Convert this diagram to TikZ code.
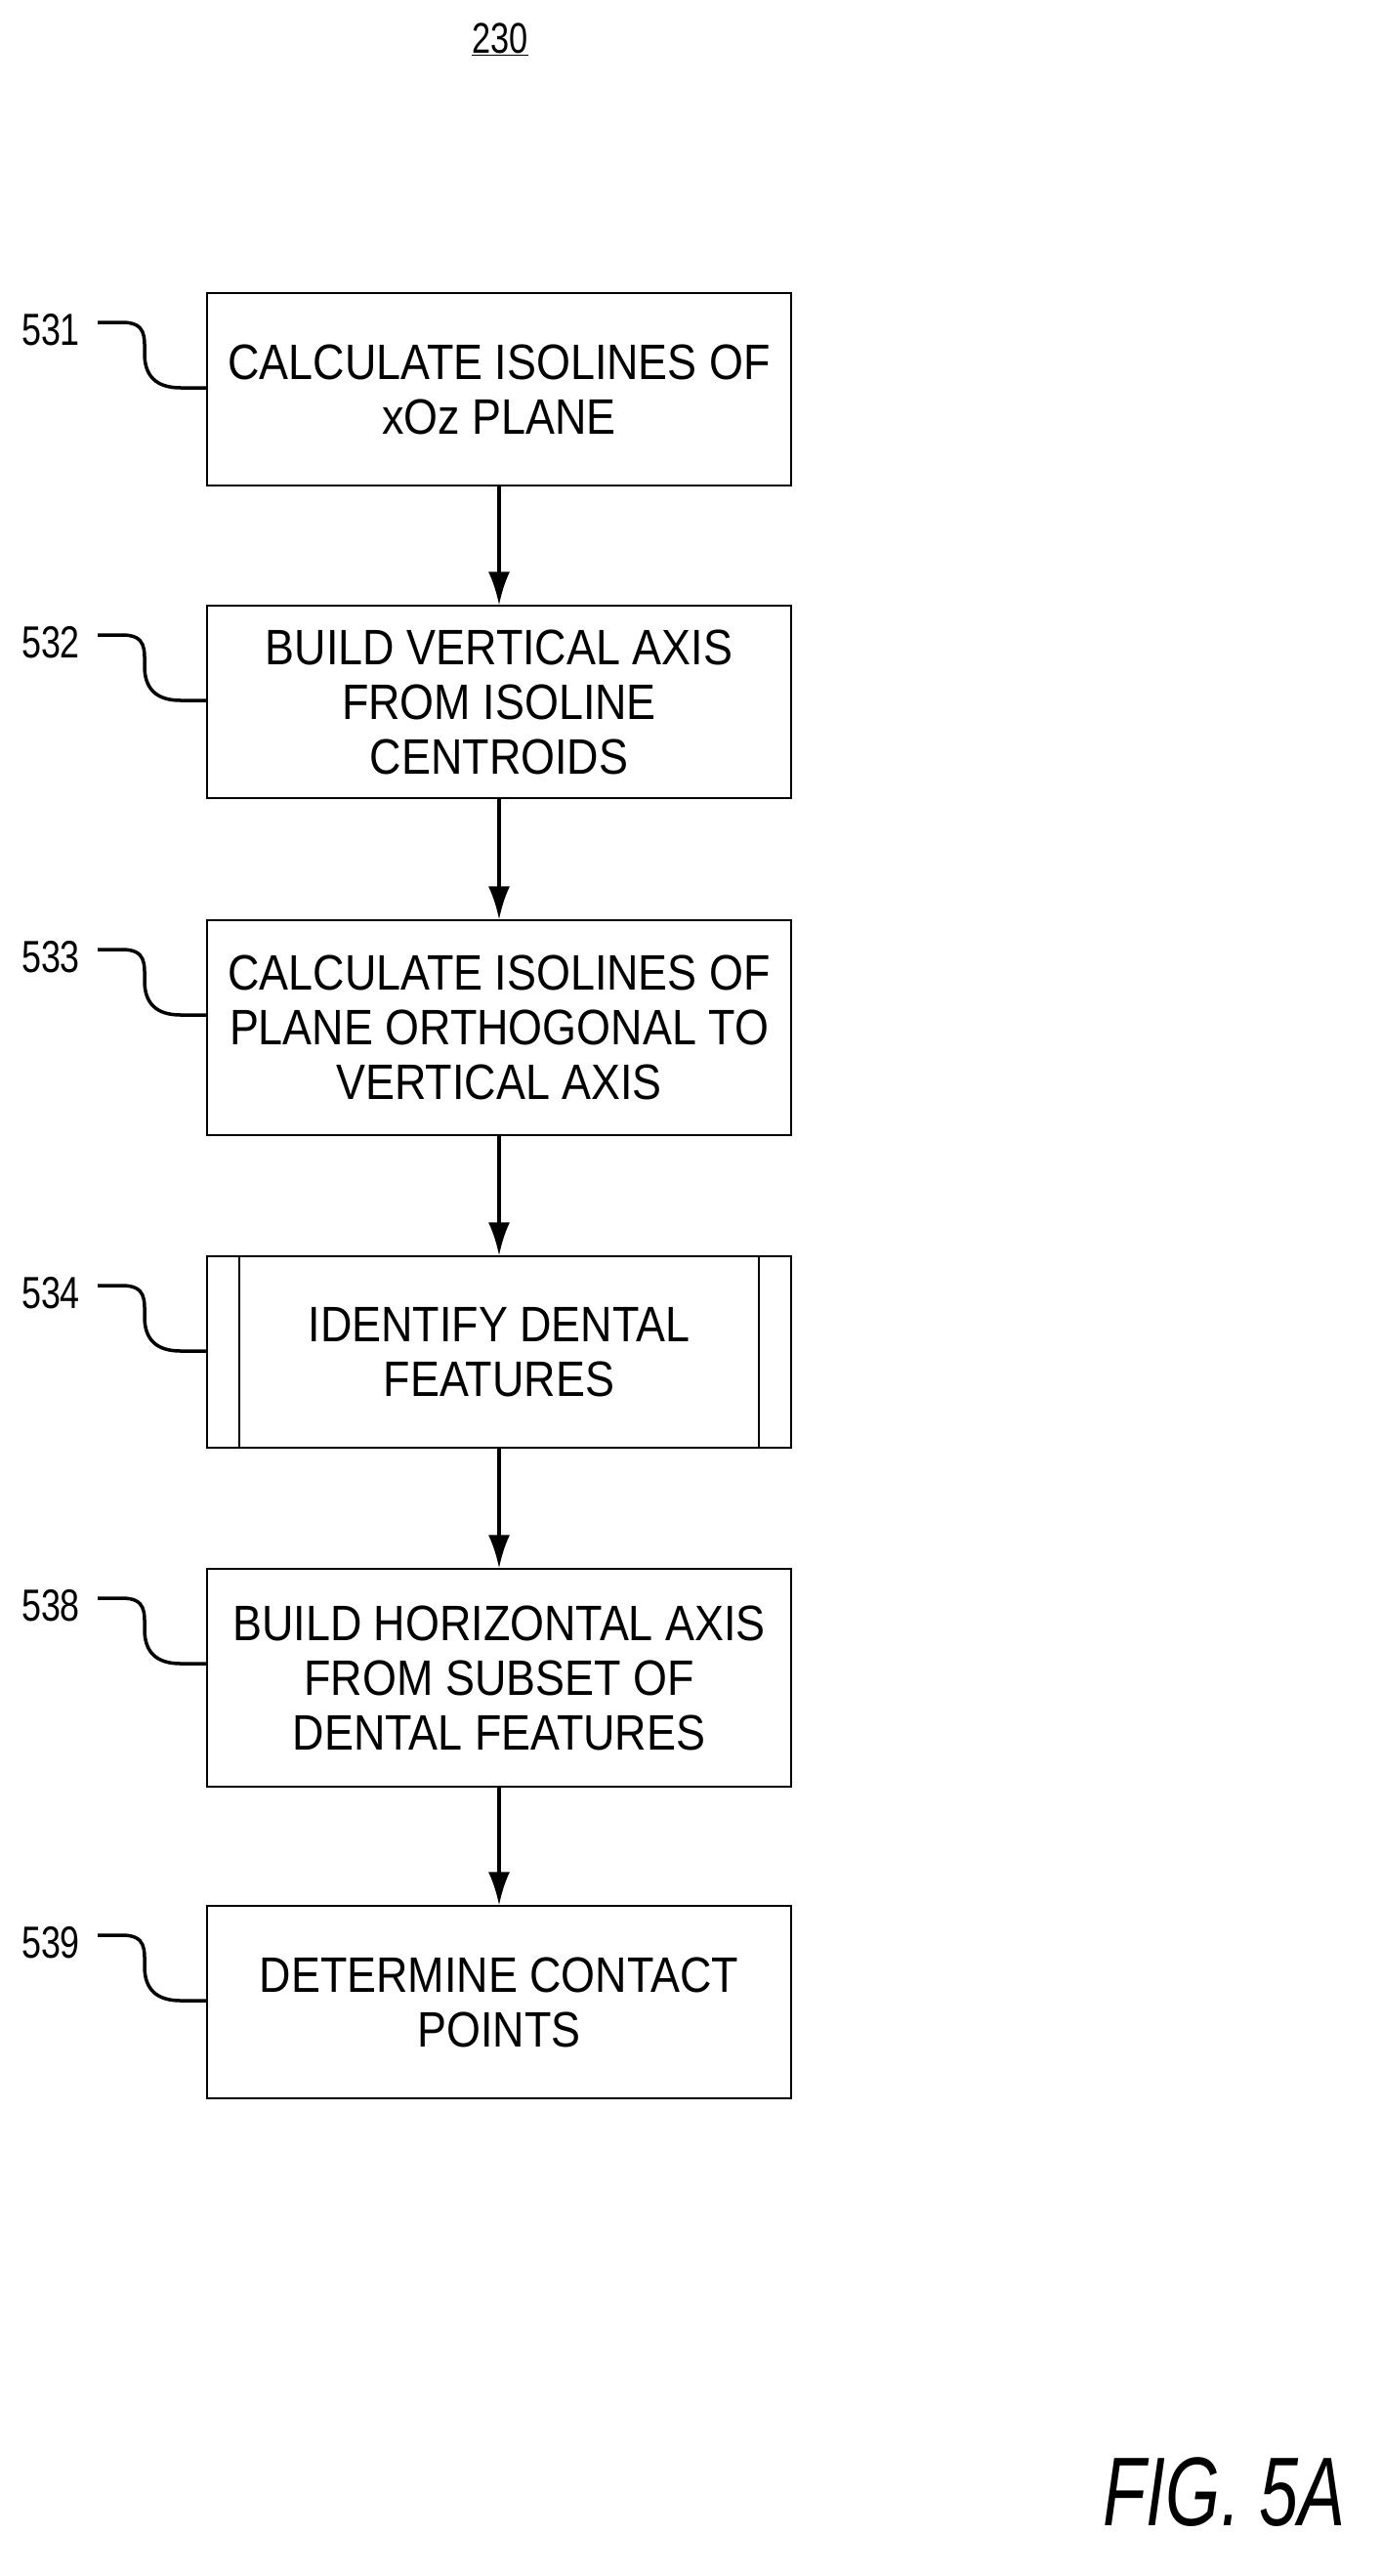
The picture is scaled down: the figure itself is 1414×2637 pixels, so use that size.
\documentclass[tikz,border=0pt]{standalone}
\usepackage{fontspec}
\setmainfont[FakeStretch=0.88]{Liberation Sans}
\newfontfamily\narrowf[FakeStretch=0.78]{Liberation Sans}
\newfontfamily\figf[FakeStretch=0.72]{Liberation Sans}
\usetikzlibrary{arrows.meta}
\begin{document}
\begin{tikzpicture}[x=1pt,y=-1pt,
  box/.style={draw,line width=1.2pt,minimum width=598pt,inner sep=0pt,align=center,font=\fontsize{51}{56}\selectfont},
  lab/.style={font=\narrowf\fontsize{46}{50}\selectfont},
  arr/.style={line width=3.5pt,-{Latex[length=34pt,width=22pt]}},
  sq/.style={line width=3.5pt}]
\useasboundingbox (0,0) rectangle (1414,2637);
\node[font=\narrowf\fontsize{44}{48}\selectfont] (t) at (512,40) {\underline{230}};
\node[box,minimum height=197pt] (b1) at (511,398.5) {CALCULATE ISOLINES OF\\xOz PLANE};
\node[box,minimum height=197pt] (b2) at (511,718.5) {BUILD VERTICAL AXIS\\FROM ISOLINE\\CENTROIDS};
\node[box,minimum height=220pt] (b3) at (511,1052) {CALCULATE ISOLINES OF\\PLANE ORTHOGONAL TO\\VERTICAL AXIS};
\node[box,minimum height=196pt] (b4) at (511,1384) {IDENTIFY DENTAL\\FEATURES};
\draw[line width=1.2pt] (245,1286) -- (245,1482) (777,1286) -- (777,1482);
\node[box,minimum height=223pt] (b5) at (511,1717.5) {BUILD HORIZONTAL AXIS\\FROM SUBSET OF\\DENTAL FEATURES};
\node[box,minimum height=197pt] (b6) at (511,2049.5) {DETERMINE CONTACT\\POINTS};
\foreach \a/\b in {b1/b2,b2/b3,b3/b4,b4/b5,b5/b6} \draw[arr] (\a) -- (\b);
\foreach \n/\l/\T in {b1/531/300,b2/532/620,b3/533/942,b4/534/1286,b5/538/1606,b6/539/1951}{
  \node[lab] (l\n) at (52,\T+38) {\l};
  \coordinate (s\n) at (100,\T+30);
  \draw[sq] (s\n) -- (125,\T+30) .. controls (150,\T+30) and (148,\T+45) .. (148,\T+62) .. controls (148,\T+85) and (160,\T+97) .. (185,\T+97) -- (\n.west |- 0,\T+97);
}
\node[font=\figf\fontsize{100}{110}\selectfont\itshape] (fig) at (1254,2551) {FIG. 5A};
\end{tikzpicture}
\end{document}
